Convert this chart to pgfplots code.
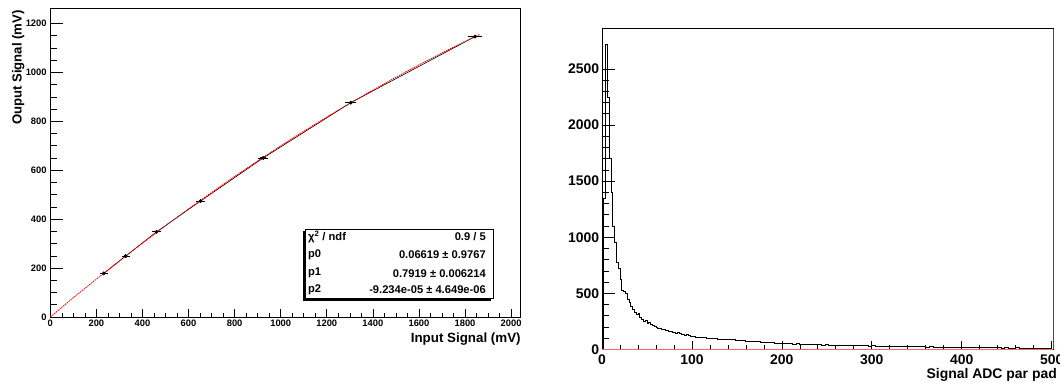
\documentclass[border=0pt]{standalone}
\usepackage{fontspec}
\setmainfont{Liberation Sans}
\usepackage{pgfplots}
\pgfplotsset{compat=1.18}

\pgfplotstableread{
x y
0 0
2 1350
4 2720
6 2250
8 1700
10 1400
12 1100
14 950
16 780
18 720
20 620
22 530
24 515
26 500
28 450
30 420
32 380
34 360
36 330
38 310
40 320
42 285
44 265
46 250
48 255
50 235
52 238
54 222
56 215
58 205
60 200
62 192
64 188
66 180
68 182
70 172
72 168
74 162
76 165
78 154
80 150
82 146
84 149
86 140
88 138
90 135
92 128
94 130
96 122
98 118
100 114
104 110
108 106
112 103
116 100
120 96
124 99
128 92
132 90
136 88
140 86
144 89
148 83
152 80
156 81
160 76
164 74
168 72
172 68
176 66
180 63
184 60
188 62
192 57
196 55
200 52
204 54
208 50
212 49
216 51
220 47
224 45
228 46
232 43
236 44
240 42
244 40
248 42
252 39
256 38
260 37
264 39
268 36
272 35
276 37
280 34
284 33
288 35
292 32
296 31
300 32
304 30
308 31
312 29
316 30
320 28
324 29
328 26
332 28
336 25
340 27
344 24
348 26
352 23
356 24
360 22
364 23
368 21
372 22
376 20
380 21
384 19
388 20
392 18
396 19
400 17
404 18
408 16
412 17
416 16
420 15
424 17
428 15
432 14
436 16
440 14
444 13
448 15
452 13
456 12
460 14
464 12
468 13
472 11
476 12
480 11
484 12
488 10
492 11
496 10
500 10
}\histdata

\pgfplotsset{
  rootstyle/.style={
    scale only axis, tick align=inside, tick pos=left,
    scaled ticks=false,
    /pgf/number format/assume math mode=true,
    /pgf/number format/1000 sep={},
    clip=false,
  },
}

\begin{document}
\begin{tikzpicture}
\path[use as bounding box] (0,0) rectangle (1060bp,388bp);

% ---------------- Left: linearity ----------------
\begin{axis}[rootstyle,
  anchor=south west, at={(50.3bp,71bp)},
  width=470.5bp, height=308.5bp,
  xmin=0, xmax=2042, ymin=0, ymax=1261,
  xtick={0,200,...,2000}, ytick=\empty,
  minor x tick num=3,
  major tick length=8bp, minor tick length=4bp,
  tick style={black, line width=0.6bp},
  axis line style={line width=0.8bp},
  ticklabel style={font=\fontsize{9.4}{10}\selectfont\bfseries},
  xticklabel style={inner sep=0pt, anchor=north, yshift=-3bp},
  xlabel={Input Signal (mV)},
  ylabel={Ouput Signal (mV)},
  every axis x label/.style={at={(rel axis cs:1,0)}, anchor=north east, inner sep=0pt, yshift=-15.5bp, font=\fontsize{13.4}{15}\selectfont\bfseries},
  every axis y label/.style={at={(rel axis cs:0,1)}, anchor=north east, inner sep=0pt, xshift=-38.5bp, yshift=-1.5bp, rotate=90, font=\fontsize{13.2}{15}\selectfont\bfseries},
]
\addplot[black, line width=0.6bp, mark=*, mark size=1.6bp,
  error bars/.cd, x dir=both, x explicit, error bar style={line width=1bp}, error mark options={mark size=2.2bp, line width=0.8bp}]
  coordinates {
  (232,178) +- (8,0)
  (327,249) +- (8,0)
  (461,348) +- (8,0)
  (652,474) +- (10,0)
  (924,650) +- (12,0)
  (1304,876) +- (15,0)
  (1843,1146) +- (20,0)
  };
\addplot[red, line width=0.8bp, dash pattern=on 1.6bp off 0.8bp] coordinates {
  (0,0.07) (100,79.2) (200,154.8) (300,229.3) (400,302.1) (500,373.0) (600,442.0)
  (700,509.1) (800,574.6) (900,638.0) (1000,699.7) (1100,759.5) (1200,817.4)
  (1300,873.5) (1400,927.8) (1500,980.2) (1600,1030.8) (1700,1079.4) (1800,1126.4) (1865,1155.9)
  };
% stats box
\fill[black] (axis cs:1096,67) rectangle (axis cs:1912,350);
\filldraw[fill=white, draw=black, line width=0.8bp] (axis cs:1105,76) rectangle (axis cs:1921,358);
\begin{scope}[font=\fontsize{11.2}{12}\selectfont\bfseries, inner sep=0pt]
\node[anchor=west] at (axis cs:1118,328) {χ\textsuperscript{2} / ndf};
\node[anchor=east] at (axis cs:1891,328) {0.9 / 5};
\node[anchor=west] at (axis cs:1118,253) {p0};
\node[anchor=east] at (axis cs:1891,253) {0.06619 ± 0.9767};
\node[anchor=west] at (axis cs:1118,179) {p1};
\node[anchor=east] at (axis cs:1891,179) {0.7919 ± 0.006214};
\node[anchor=west] at (axis cs:1118,110) {p2};
\node[anchor=east] at (axis cs:1891,110) {-9.234e-05 ± 4.649e-06};
\end{scope}
\end{axis}
% overlay for longer y ticks
\begin{axis}[rootstyle,
  anchor=south west, at={(50.3bp,71bp)},
  width=470.5bp, height=308.5bp,
  xmin=0, xmax=2042, ymin=0, ymax=1261,
  xtick=\empty, ytick={0,200,...,1200},
  minor y tick num=3,
  major tick length=12.5bp, minor tick length=6.2bp,
  tick style={black, line width=0.6bp},
  axis line style={draw=none},
  ticklabel style={font=\fontsize{9.4}{10}\selectfont\bfseries},
  yticklabel style={inner sep=0pt, anchor=east, xshift=-3.5bp},
]
\end{axis}

% ---------------- Right: histogram ----------------
\begin{axis}[rootstyle,
  anchor=south west, at={(602bp,38.5bp)},
  width=451bp, height=320.5bp,
  xmin=0, xmax=501.5, ymin=0, ymax=2856,
  xtick={0,100,...,500}, ytick=\empty,
  minor x tick num=4,
  major tick length=8bp, minor tick length=4bp,
  tick style={black, line width=0.7bp},
  axis line style={line width=1bp},
  ticklabel style={font=\fontsize{14}{15}\selectfont\bfseries},
  xticklabel style={inner sep=0pt, anchor=north, yshift=-5.5bp},
  xlabel={Signal ADC par pad},
  every axis x label/.style={at={(rel axis cs:1,0)}, anchor=north east, inner sep=0pt, xshift=4bp, yshift=-18.5bp, font=\fontsize{14}{15}\selectfont\bfseries},
]
\addplot[black, line width=0.9bp, const plot, mark=none] table[x=x, y=y] {\histdata};
\end{axis}
\begin{axis}[rootstyle,
  anchor=south west, at={(602bp,38.5bp)},
  width=451bp, height=320.5bp,
  xmin=0, xmax=501.5, ymin=0, ymax=2856,
  xtick=\empty, ytick={0,500,...,2500},
  minor y tick num=4,
  major tick length=13bp, minor tick length=6.5bp,
  tick style={black, line width=0.7bp},
  axis line style={draw=none},
  ticklabel style={font=\fontsize{14}{15}\selectfont\bfseries},
  yticklabel style={inner sep=0pt, anchor=east, xshift=-2.6bp},
]
\draw[red!60!white, line width=0.3bp] (axis cs:0,5) -- (axis cs:501.5,5);
\draw[red, line width=1bp] (axis cs:501.5,0) -- (axis cs:501.5,2856);
\end{axis}
\end{tikzpicture}
\end{document}
